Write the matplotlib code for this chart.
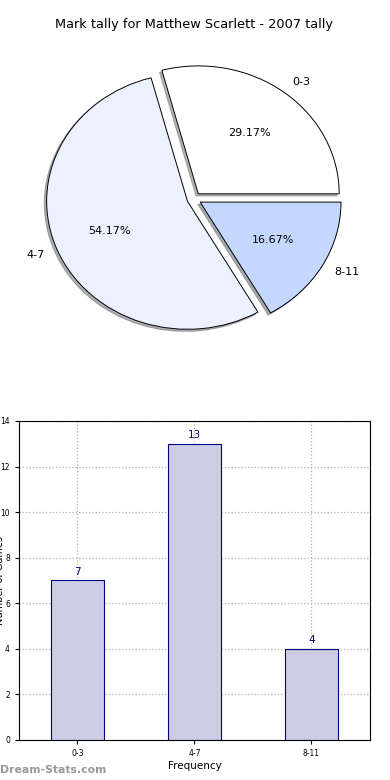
import matplotlib
matplotlib.use("Agg")
import matplotlib.pyplot as plt

# data
ranges = ["0-3", "4-7", "8-11"]
games = [7, 13, 4]
pie_colors = ["#ffffff", "#ebf1fe", "#c4d8ff"]
title = "Mark tally for Matthew Scarlett - 2007 tally"

fig = plt.figure(figsize=(3.9, 7.8), dpi=100)

# pie on top (old style, not circular)
ax1 = fig.add_axes([0.046, 0.54, 0.903, 0.41])
ax1.pie(games, labels=ranges, colors=pie_colors, explode=[0.05, 0.05, 0.05],
        autopct="%1.2f%%", shadow={"ox": -0.012, "oy": -0.012, "shade": 0.6},
        startangle=0,
        wedgeprops=dict(edgecolor="black", linewidth=0.7),
        textprops=dict(fontsize=8))
ax1.set_aspect("auto")
ax1.set_title(title, fontsize=9.3, pad=8)

# bar chart underneath
ax2 = fig.add_axes([0.0487, 0.0513, 0.9, 0.409])
x = range(len(ranges))
bars = ax2.bar(x, games, width=0.45, color="#cccce5",
               edgecolor="#000080", linewidth=0.8, zorder=2)
for b, v in zip(bars, games):
    ax2.text(b.get_x() + b.get_width() / 2, v + 0.15, str(v),
             ha="center", va="bottom", fontsize=7.5, color="#000080")

ax2.set_xlim(-0.5, 2.5)
ax2.set_ylim(0, 14)
ax2.set_xticks(list(x))
ax2.set_xticklabels(ranges)
ax2.set_yticks(range(0, 15, 2))
ax2.tick_params(labelsize=5.5, length=3)
ax2.grid(True, linestyle=":", color="#b0b0b0", linewidth=0.9, zorder=0)
ax2.set_axisbelow(True)
ax2.set_xlabel("Frequency", fontsize=7.5, labelpad=2)
# the label sits half off the left edge, as in the original
ax2.set_ylabel("Number of Games", fontsize=7)
ax2.yaxis.set_label_coords(-0.04, 0.5)

fig.text(0.0, 0.0125, "Dream-Stats.com", fontsize=7.8, color="#999999",
         fontweight="bold", ha="left", va="center")

fig.savefig("out.png", dpi=100)
